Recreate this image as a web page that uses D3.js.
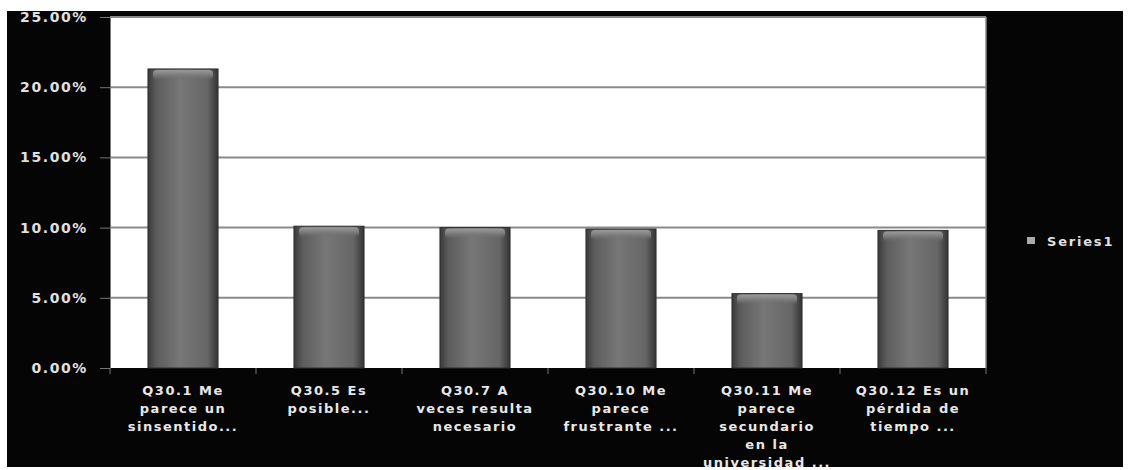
<!DOCTYPE html>
<html><head><meta charset="utf-8">
<script src="https://cdn.jsdelivr.net/npm/d3@7"></script>
<style>body{margin:0;background:#fff}svg{display:block}</style>
</head><body>
<svg id="c" width="1130" height="470"></svg>
<script>
const categories = [
  ["Q30.1 Me","parece un","sinsentido..."],
  ["Q30.5 Es","posible..."],
  ["Q30.7  A","veces resulta","necesario"],
  ["Q30.10 Me","parece","frustrante ..."],
  ["Q30.11 Me","parece","secundario","en la","universidad ..."],
  ["Q30.12 Es un","pérdida de","tiempo ..."]
];
const values = [0.213, 0.101, 0.100, 0.099, 0.053, 0.098];
const yTicks = [0, 0.05, 0.10, 0.15, 0.20, 0.25];
const seriesName = "Series1";

const svg = d3.select("#c");
const L = 110, R = 986, T = 17, B = 368;
svg.append("rect").attr("x",7).attr("y",11).attr("width",1116).attr("height",456).attr("fill","#050505");
svg.append("rect").attr("x",L).attr("y",T).attr("width",R-L).attr("height",B-T).attr("fill","#fff");

const defs = svg.append("defs");
const g1 = defs.append("linearGradient").attr("id","bar").attr("x1","0").attr("x2","1").attr("y1","0").attr("y2","0");
[[0,"#3a3a3a"],[0.12,"#5c5c5c"],[0.45,"#777"],[0.85,"#666"],[1,"#333"]].forEach(([o,c])=>g1.append("stop").attr("offset",o).attr("stop-color",c));
const g2 = defs.append("linearGradient").attr("id","cap").attr("x1","0").attr("x2","0").attr("y1","0").attr("y2","1");
[[0,"#9a9a9a"],[0.5,"#7c7c7c"],[1,"rgba(110,110,110,0)"]].forEach(([o,c])=>g2.append("stop").attr("offset",o).attr("stop-color",c));

const y = d3.scaleLinear().domain([0,0.25]).range([B,T]);
const x = d3.scaleBand().domain(d3.range(categories.length)).range([L,R]).paddingInner(0.52).paddingOuter(0.26);

// gridlines
svg.append("g").selectAll("line").data(yTicks.slice(1)).join("line")
  .attr("x1",L).attr("x2",R).attr("y1",d=>y(d)).attr("y2",d=>y(d))
  .attr("stroke","#8a8a8a").attr("stroke-width",2);
svg.append("line").attr("x1",R).attr("x2",R).attr("y1",T).attr("y2",B).attr("stroke","#8a8a8a").attr("stroke-width",1.5);

// y axis
const yAxis = d3.axisLeft(y).tickValues(yTicks).tickFormat(d3.format(".2%")).tickSize(10).tickPadding(12);
const ya = svg.append("g").attr("transform",`translate(${L},0)`).call(yAxis);
ya.select(".domain").attr("stroke","#777");
ya.selectAll(".tick line").attr("stroke","#777");
ya.selectAll(".tick text").attr("fill","#e0e0e0").attr("font-family","DejaVu Sans").attr("font-weight","bold")
  .attr("font-size",14).attr("letter-spacing","1.6px");

// bars
const bars = svg.append("g").selectAll("g").data(values).join("g");
bars.append("rect").attr("x",(d,i)=>x(i)).attr("y",d=>y(d)).attr("width",x.bandwidth()).attr("height",d=>B-y(d))
  .attr("fill","url(#bar)").attr("stroke","#2e2e2e").attr("stroke-width",1);
bars.append("rect").attr("x",(d,i)=>x(i)+5).attr("y",d=>y(d)+1).attr("width",x.bandwidth()-10).attr("height",10)
  .attr("rx",4).attr("fill","url(#cap)");

// x axis ticks
const xb = d3.range(categories.length+1).map(i=>L+i*(R-L)/categories.length);
svg.append("g").selectAll("line").data(xb).join("line")
  .attr("x1",d=>d).attr("x2",d=>d).attr("y1",B).attr("y2",B+6).attr("stroke","#777");

// category labels
const lab = svg.append("g").selectAll("text").data(categories).join("text")
  .attr("text-anchor","middle").attr("fill","#e8e8e8").attr("font-family","DejaVu Sans").attr("font-weight","bold")
  .attr("font-size",13).attr("letter-spacing","1.5px");
lab.each(function(lines,i){
  const t = d3.select(this);
  lines.forEach((s,k)=>t.append("tspan").attr("x",x(i)+x.bandwidth()/2).attr("y",395+k*18).text(s));
});

// legend
svg.append("rect").attr("x",1027).attr("y",237).attr("width",8).attr("height",7).attr("fill","#aaa");
svg.append("text").attr("x",1047).attr("y",245.5).attr("fill","#e0e0e0").attr("font-family","DejaVu Sans")
  .attr("font-weight","bold").attr("font-size",13).attr("letter-spacing","1.8px").text(seriesName);
</script>
</body></html>
